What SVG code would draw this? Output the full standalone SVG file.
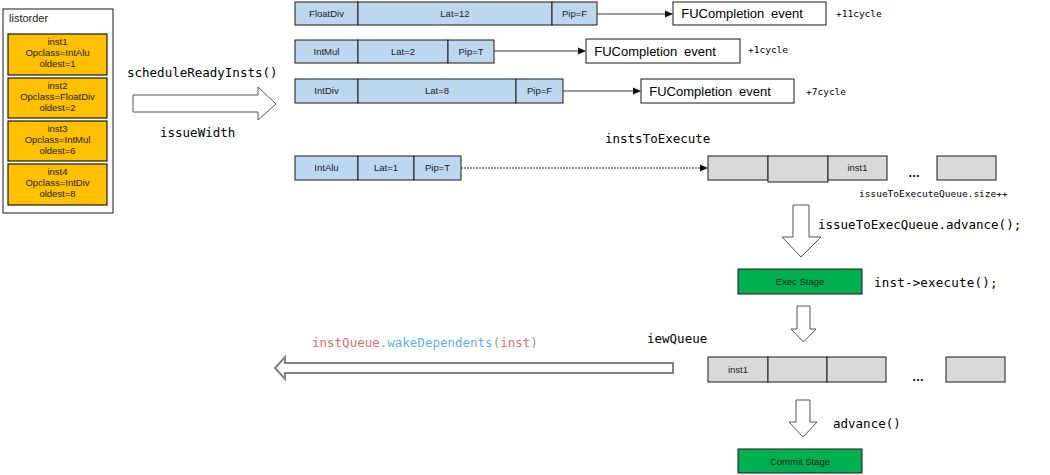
<svg xmlns="http://www.w3.org/2000/svg" width="1050" height="475" viewBox="0 0 1050 475">
<style>
.bg{fill:#fff}
.inst{fill:#FFC000;stroke:#1a1a1a;stroke-width:1.2}
.fu{fill:#BDD7EE;stroke:#1a1a1a;stroke-width:1}
.q{fill:#D9D9D9;stroke:#1a1a1a;stroke-width:1}
.ev{fill:#fff;stroke:#1a1a1a;stroke-width:1}
.stage{fill:#00B050;stroke:#1a1a1a;stroke-width:1}
.sm{font-family:"Liberation Sans",Arial,sans-serif;font-size:9.5px;fill:#1a1a1a;text-anchor:middle}
.ev-t{font-family:"Liberation Sans",Arial,sans-serif;font-size:13px;fill:#000;text-anchor:middle;word-spacing:3px}
.mono{font-family:"DejaVu Sans Mono","Liberation Mono",monospace;font-size:12.5px;fill:#000}
.cyc{font-family:"DejaVu Sans Mono","Liberation Mono",monospace;font-size:9.5px;fill:#000}
.blk{fill:#fff;stroke:#555;stroke-width:1}
.conn{stroke:#333;stroke-width:1;fill:none}
.dots{font-family:"Liberation Sans",Arial,sans-serif;font-size:12px;font-weight:bold;fill:#000}
</style>
<defs>
<marker id="ah" markerWidth="8" markerHeight="8" refX="7" refY="4" orient="auto" markerUnits="userSpaceOnUse">
<path d="M0,0.5 L8,4 L0,7.5 z" fill="#111"/>
</marker>
</defs>
<rect class="bg" x="0" y="0" width="1050" height="475"/>

<g id="listorder">
<rect x="3" y="9" width="110" height="204" fill="#fff" stroke="#1a1a1a" stroke-width="1"/>
<text x="9" y="22" font-family="Liberation Sans,Arial,sans-serif" font-size="11" fill="#1a1a1a">listorder</text>
</g>
<g id="inst1">
<rect class="inst" x="8" y="34" width="99" height="41"/>
<text class="sm" x="57.5" y="45">inst1</text><text class="sm" x="57.5" y="56">Opclass=IntAlu</text><text class="sm" x="57.5" y="67">oldest=1</text>
</g>
<g id="inst2">
<rect class="inst" x="8" y="78" width="99" height="40"/>
<text class="sm" x="57.5" y="89">inst2</text><text class="sm" x="57.5" y="100">Opclass=FloatDiv</text><text class="sm" x="57.5" y="111">oldest=2</text>
</g>
<g id="inst3">
<rect class="inst" x="8" y="121" width="99" height="40"/>
<text class="sm" x="57.5" y="132">inst3</text><text class="sm" x="57.5" y="143">Opclass=IntMul</text><text class="sm" x="57.5" y="154">oldest=6</text>
</g>
<g id="inst4">
<rect class="inst" x="8" y="164" width="99" height="41"/>
<text class="sm" x="57.5" y="175">inst4</text><text class="sm" x="57.5" y="186">Opclass=IntDiv</text><text class="sm" x="57.5" y="197">oldest=8</text>
</g>

<g id="schedule-arrow">
<path class="blk" d="M133,95 L258,95 L258,87 L276,104 L258,120 L258,112 L133,112 z"/>
<text class="mono" x="127" y="77">scheduleReadyInsts()</text>
<text class="mono" x="160" y="137">issueWidth</text>
</g>

<g id="fu-floatdiv">
<rect class="fu" x="295" y="2" width="63" height="23"/>
<rect class="fu" x="358" y="2" width="194" height="23"/>
<rect class="fu" x="552" y="2" width="45" height="23"/>
<text class="sm" x="326.5" y="17">FloatDiv</text><text class="sm" x="455" y="17">Lat=12</text><text class="sm" x="574.5" y="17">Pip=F</text>
</g>
<g id="fu-intmul">
<rect class="fu" x="295" y="40" width="63" height="23"/>
<rect class="fu" x="358" y="40" width="90" height="23"/>
<rect class="fu" x="448" y="40" width="46" height="23"/>
<text class="sm" x="326.5" y="55">IntMul</text><text class="sm" x="403" y="55">Lat=2</text><text class="sm" x="471" y="55">Pip=T</text>
</g>
<g id="fu-intdiv">
<rect class="fu" x="295" y="79" width="63" height="24"/>
<rect class="fu" x="358" y="79" width="158" height="24"/>
<rect class="fu" x="516" y="79" width="47" height="24"/>
<text class="sm" x="326.5" y="94">IntDiv</text><text class="sm" x="437" y="94">Lat=8</text><text class="sm" x="539.5" y="94">Pip=F</text>
</g>
<g id="fu-intalu">
<rect class="fu" x="295" y="156" width="63" height="24"/>
<rect class="fu" x="358" y="156" width="56" height="24"/>
<rect class="fu" x="414" y="156" width="47" height="24"/>
<text class="sm" x="326.5" y="171">IntAlu</text><text class="sm" x="386" y="171">Lat=1</text><text class="sm" x="437.5" y="171">Pip=T</text>
</g>

<g id="event1">
<rect class="ev" x="673" y="2" width="153" height="23"/>
<text class="ev-t" x="742" y="18">FUCompletion event</text>
<text class="cyc" x="836" y="17">+11cycle</text>
</g>
<g id="event2">
<rect class="ev" x="586" y="39" width="154" height="24"/>
<text class="ev-t" x="655" y="56">FUCompletion event</text>
<text class="cyc" x="748" y="53">+1cycle</text>
</g>
<g id="event3">
<rect class="ev" x="641" y="79" width="153" height="24"/>
<text class="ev-t" x="710" y="96">FUCompletion event</text>
<text class="cyc" x="806" y="95">+7cycle</text>
</g>

<g id="insts-to-execute">
<text class="mono" x="605" y="143">instsToExecute</text>
<rect class="q" x="708" y="156" width="60" height="24"/>
<rect class="q" x="768" y="156" width="60" height="26"/>
<rect class="q" x="828" y="156" width="59" height="24"/>
<text class="sm" x="857.5" y="171">inst1</text>
<text class="dots" x="908" y="177">…</text>
<rect class="q" x="937" y="156" width="59" height="24"/>
<text class="cyc" x="859" y="197" font-size="10">issueToExecuteQueue.size++</text>
</g>

<g id="down-arrow-1">
<path class="blk" d="M793,205 L809,205 L809,237 L821,237 L801,257 L782,237 L793,237 z"/>
<text class="mono" x="818" y="229" font-size="11.8">issueToExecQueue.advance();</text>
</g>

<g id="exec-stage">
<rect class="stage" x="738" y="269" width="124" height="25"/>
<text class="sm" x="800" y="285" font-size="9">Exec Stage</text>
<text class="mono" x="874" y="287" font-size="12" letter-spacing="0.2">inst-&gt;execute();</text>
</g>

<g id="down-arrow-2">
<path class="blk" d="M797,306 L810,306 L810,329 L816,329 L803.5,342 L791,329 L797,329 z"/>
</g>

<g id="iew-queue">
<text class="mono" x="647" y="343">iewQueue</text>
<rect class="q" x="708" y="357" width="60" height="25"/>
<rect class="q" x="768" y="357" width="59" height="25"/>
<rect class="q" x="827" y="357" width="59" height="25"/>
<text class="sm" x="738" y="373">inst1</text>
<text class="dots" x="912" y="381">…</text>
<rect class="q" x="946" y="357" width="59" height="25"/>
</g>

<g id="wake-arrow">
<path d="M673,363 L285,363 L285,357 L275,368 L285,379 L285,373 L673,373 z" fill="#fff" stroke="#808080" stroke-width="2"/>
<text class="mono" x="312" y="347"><tspan fill="#e06c75">instQueue</tspan><tspan fill="#999">.</tspan><tspan fill="#61afef">wakeDependents</tspan><tspan fill="#999">(</tspan><tspan fill="#e06c75">inst</tspan><tspan fill="#999">)</tspan></text>
</g>

<g id="down-arrow-3">
<path class="blk" d="M796,400 L810,400 L810,422 L817,422 L803,437 L789,422 L796,422 z"/>
<text class="mono" x="833" y="428" font-size="12">advance()</text>
</g>

<g id="commit-stage">
<rect class="stage" x="738" y="449" width="124" height="24"/>
<text class="sm" x="800" y="465" font-size="9">Commit Stage</text>
</g>

<g id="connectors">
<line class="conn" x1="597" y1="14" x2="672" y2="14" marker-end="url(#ah)"/>
<line class="conn" x1="494" y1="51" x2="585" y2="51" marker-end="url(#ah)"/>
<line class="conn" x1="563" y1="91" x2="640" y2="91" marker-end="url(#ah)"/>
<line class="conn" x1="461" y1="168" x2="707" y2="168" stroke-dasharray="2,1" marker-end="url(#ah)"/>
</g>
</svg>
